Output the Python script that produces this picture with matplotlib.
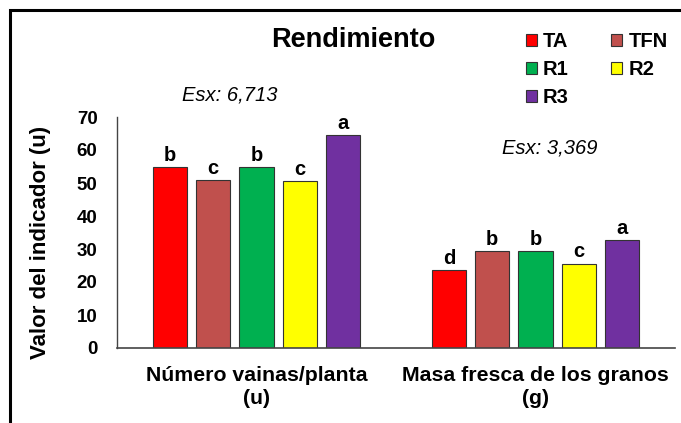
import matplotlib
matplotlib.use("Agg")
import matplotlib.pyplot as plt
import numpy as np
from matplotlib.patches import Rectangle, Patch

plt.rcParams['font.family'] = ['Liberation Sans', 'DejaVu Sans']

categories = ["Número vainas/planta\n(u)", "Masa fresca de los granos\n(g)"]
series = ["TA", "TFN", "R1", "R2", "R3"]
colors = ["#FF0000", "#C0504D", "#00B050", "#FFFF00", "#7030A0"]
values = {
    "TA":  [54.8, 23.7],
    "TFN": [51.0, 29.3],
    "R1":  [54.8, 29.3],
    "R2":  [50.6, 25.6],
    "R3":  [64.5, 32.8],
}
letters = {
    "TA":  ["b", "d"],
    "TFN": ["c", "b"],
    "R1":  ["b", "b"],
    "R2":  ["c", "c"],
    "R3":  ["a", "a"],
}
esx_labels = ["Esx: 6,713", "Esx: 3,369"]
yticks = [0, 10, 20, 30, 40, 50, 60, 70]

fig = plt.figure(figsize=(6.81, 4.23), dpi=100)
ax = fig.add_axes([117/681, 1 - 348/423, (675 - 117)/681, (348 - 117)/423])

x = np.arange(len(categories))
width = 0.122
step = 0.155
for i, s in enumerate(series):
    xs = x + (i - 2) * step
    ax.bar(xs, values[s], width=width, color=colors[i], edgecolor="#333333", linewidth=0.8)
    for xi, v, lab in zip(xs, values[s], letters[s]):
        ax.annotate(lab, (xi, v), xytext=(0, 1.5), textcoords="offset points",
                    ha="center", va="bottom", fontsize=14.5, fontweight="bold")

ax.set_xlim(-0.5, 1.5)
ax.set_ylim(0, 70)
ax.set_yticks(yticks)
ax.set_yticklabels([str(t) for t in yticks], fontsize=13.5, fontweight="bold")
ax.set_xticks(x)
ax.set_xticklabels(categories, fontsize=15.3, fontweight="bold", linespacing=1.25)
ax.tick_params(axis="both", length=0)
ax.tick_params(axis="y", pad=14)
ax.tick_params(axis="x", pad=13)
for sp in ["top", "right"]:
    ax.spines[sp].set_visible(False)
ax.spines["left"].set_color("#444444")
ax.spines["bottom"].set_color("#444444")
ax.spines["left"].set_linewidth(1.0)
ax.spines["bottom"].set_linewidth(1.2)

fig.text(41/681, 1 - 242/423, "Valor del indicador (u)", rotation=90, ha="center", va="center",
         fontsize=16, fontweight="bold")

fig.text(353/681, 1 - 40/423, "Rendimiento", ha="center", va="center", fontsize=19.5, fontweight="bold")
fig.text(230/681, 1 - 95/423, esx_labels[0], ha="center", va="center", fontsize=14.5, style="italic")
fig.text(550/681, 1 - 148/423, esx_labels[1], ha="center", va="center", fontsize=14.5, style="italic")

order = [0, 2, 4, 1, 3]
leg_handles = [Patch(facecolor=colors[i], edgecolor="#333333", linewidth=0.8) for i in order]
leg_labels = [series[i] for i in order]
fig.legend(leg_handles, leg_labels, ncol=2, loc="upper left",
           bbox_to_anchor=(526/681, 1 - 32/423), frameon=False,
           prop={"size": 14.5, "weight": "bold"},
           handlelength=0.55, handleheight=0.6, handletextpad=0.3,
           columnspacing=2.1, labelspacing=0.45, borderaxespad=0, borderpad=0)

fig.add_artist(Rectangle((10/681, -0.05), 1.1, 1 - 10/423 + 0.05, transform=fig.transFigure,
                         fill=False, edgecolor="black", linewidth=2.2))

fig.savefig("out.png", dpi=100)
